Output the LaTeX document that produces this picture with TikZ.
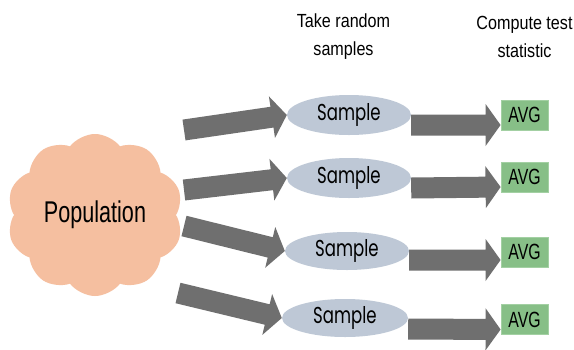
\documentclass[tikz,border=0pt]{standalone}
\usepackage{fontspec}
\setmainfont{Liberation Sans}
\newfontfamily\titlefont[FakeStretch=0.85]{Liberation Sans}
\newfontfamily\narrowfont[FakeStretch=0.72]{Liberation Sans}
\newfontfamily\gothicfont[FakeStretch=0.72]{Poppins}
\usetikzlibrary{shapes.geometric,shapes.symbols,calc}
\definecolor{cloudc}{HTML}{F5BFA0}
\definecolor{samplec}{HTML}{BEC8D6}
\definecolor{avgc}{HTML}{87BF87}
\definecolor{avgb}{HTML}{A3D0A3}
\definecolor{arrowgray}{HTML}{6F6F6F}
\tikzset{
  samplebox/.style={ellipse, fill=samplec, minimum width=124pt, minimum height=40pt, inner sep=0pt,
    font=\gothicfont\fontsize{23}{26}\selectfont},
  avgbox/.style={rectangle, fill=avgc, draw=avgb, line width=0.8pt, minimum width=47pt, minimum height=30pt, inner sep=0pt,
    font=\narrowfont\fontsize{22}{24}\selectfont},
  titlebox/.style={align=center, inner sep=0pt, font=\titlefont\fontsize{19}{28}\selectfont},
}
\newcommand{\fatarrow}[2]{%
  \coordinate (fatH) at ($(#2)!15pt!(#1)$);
  \fill[arrowgray] ($(#1)!10.5pt!90:(#2)$) -- ($(fatH)!10.5pt!90:(#2)$) -- ($(fatH)!21pt!90:(#2)$)
    -- (#2) -- ($(fatH)!21pt!-90:(#2)$) -- ($(fatH)!10.5pt!-90:(#2)$) -- ($(#1)!10.5pt!-90:(#2)$) -- cycle;}
\begin{document}
\begin{tikzpicture}[x=1pt,y=-1pt]
\useasboundingbox (0,0) rectangle (574,349);
\fill[white] (0,0) rectangle (574,349);
% titles
\node[titlebox] (t1) at (343.5,37) {Take random\\samples};
\node[titlebox] (t2) at (524.5,37) {Compute test\\statistic};
% population
\node[cloud, cloud puffs=10, cloud puff arc=105, aspect=1.08, fill=cloudc, minimum width=176pt, minimum height=162pt, inner sep=0pt,
  font=\narrowfont\fontsize{30}{32}\selectfont] (pop) at (95,215) {Population};
% samples
\node[samplebox] (s1) at (349,115) {Sample};
\node[samplebox] (s2) at (349,178) {Sample};
\node[samplebox, minimum height=38pt] (s3) at (347,251) {Sample};
\node[samplebox, minimum height=38pt, minimum width=126pt] (s4) at (345,318) {Sample};
% avg boxes
\node[avgbox] (a1) at (524.5,115) {AVG};
\node[avgbox] (a2) at (524.5,177) {AVG};
\node[avgbox] (a3) at (524.5,252) {AVG};
\node[avgbox] (a4) at (524.5,319.5) {AVG};
% tails of arrows from population
\coordinate (p1) at (184,130);
\coordinate (p2) at (184,190);
\coordinate (p3) at (184,226);
\coordinate (p4) at (178,293);
\fatarrow{p1}{s1.west}
\fatarrow{p2}{s2.west}
\fatarrow{p3}{s3.west}
\fatarrow{p4}{s4.west}
% arrows from samples to statistics
\coordinate (r1) at ([yshift=-10pt]s1.east);
\coordinate (r2) at ([yshift=-10pt]s2.east);
\coordinate (r3) at ([yshift=-9pt]s3.east);
\coordinate (r4) at ([yshift=-11pt]s4.east);
\coordinate (q1) at ([yshift=-10pt]a1.west);
\coordinate (q2) at ([yshift=-10pt]a2.west);
\coordinate (q3) at ([yshift=-8pt]a3.west);
\coordinate (q4) at ([yshift=-10pt]a4.west);
\fatarrow{r1}{q1}
\fatarrow{r2}{q2}
\fatarrow{r3}{q3}
\fatarrow{r4}{q4}
\end{tikzpicture}
\end{document}
